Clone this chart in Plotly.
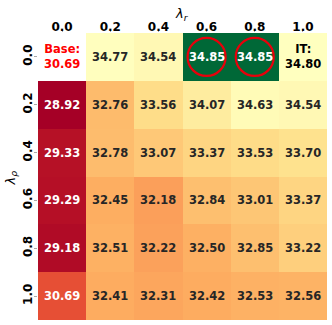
import plotly.graph_objects as go

# lambda values for both axes
lam_r = ["0.0", "0.2", "0.4", "0.6", "0.8", "1.0"]
lam_p = ["0.0", "0.2", "0.4", "0.6", "0.8", "1.0"]

# rows = lambda_rho, columns = lambda_r; None = base cell (not coloured)
scores = [
    [None, 34.77, 34.54, 34.85, 34.85, 34.80],
    [28.92, 32.76, 33.56, 34.07, 34.63, 34.54],
    [29.33, 32.78, 33.07, 33.37, 33.53, 33.70],
    [29.29, 32.45, 32.18, 32.84, 33.01, 33.37],
    [29.18, 32.51, 32.22, 32.50, 32.85, 33.22],
    [30.69, 32.41, 32.31, 32.42, 32.53, 32.56],
]
base_score = 30.69
it_score = 34.80
best_cells = [(0, 3), (0, 4)]  # (row, col) of the best scores

# colour range: centred on the IT score, starting at the minimum
vmin = 28.92
vmax = 2 * it_score - vmin

main_z = [[v for v in row] for row in scores]
best_z = [[None] * len(lam_r) for _ in lam_p]
for r, c in best_cells:
    best_z[r][c] = scores[r][c]
    main_z[r][c] = None

fig = go.Figure()
fig.add_trace(go.Heatmap(
    z=main_z, x=lam_r, y=lam_p,
    colorscale="RdYlGn", zmin=vmin, zmax=vmax,
    showscale=False, hoverinfo="skip",
))
fig.add_trace(go.Heatmap(
    z=best_z, x=lam_r, y=lam_p,
    colorscale=[[0, "#006837"], [1, "#006837"]],
    showscale=False, hoverinfo="skip",
))
fig.add_trace(go.Scatter(
    x=[lam_r[c] for r, c in best_cells],
    y=[lam_p[r] for r, c in best_cells],
    mode="markers",
    marker=dict(symbol="circle-open", size=38, color="#e8000b", line=dict(width=2.2)),
    hoverinfo="skip", showlegend=False,
))

annotations = []
for i, row in enumerate(scores):
    for j, v in enumerate(row):
        color = "#262626"
        if i == 0 and j == 0:
            text = f"Base:<br>{base_score:.2f}"
            color = "#ff0000"
        elif i == 0 and j == len(row) - 1:
            text = f"IT:<br>{v:.2f}"
            color = "black"
        else:
            text = f"{v:.2f}"
            if (i, j) in best_cells or v < 31:
                color = "white"
        annotations.append(dict(
            x=j, y=i, xref="x", yref="y", text=text,
            showarrow=False,
            font=dict(family="DejaVu Sans", size=11.5, color=color, weight="bold"),
        ))

# axis titles
annotations.append(dict(
    x=0.5, y=1, xref="paper", yref="paper", xshift=-1, yshift=19,
    xanchor="center", yanchor="middle",
    text="<i>λ<sub>r</sub></i>", showarrow=False, font=dict(size=13),
))
annotations.append(dict(
    x=0, y=0.5, xref="paper", yref="paper", xshift=-27, yshift=-2,
    xanchor="center", yanchor="middle",
    text="<i>λ<sub>ρ</sub></i>", showarrow=False, textangle=-90, font=dict(size=13),
))

fig.update_layout(
    width=332, height=325,
    margin=dict(l=38, r=5, t=33, b=5),
    paper_bgcolor="white", plot_bgcolor="white",
    annotations=annotations,
    font=dict(family="DejaVu Sans", color="black"),
    xaxis=dict(
        type="category", side="top", showgrid=False, zeroline=False,
        automargin=False, range=[-0.5, len(lam_r) - 0.5],
        ticks="outside", ticklen=3, tickcolor="#aaaaaa", ticklabelstandoff=-7,
        tickfont=dict(size=12, weight="bold"),
    ),
    yaxis=dict(
        type="category", showgrid=False, zeroline=False,
        automargin=False, range=[len(lam_p) - 0.5, -0.5],
        ticks="outside", ticklen=3, tickcolor="#aaaaaa", tickangle=-90,
        ticklabelstandoff=-3,
        tickfont=dict(size=12, weight="bold"),
    ),
)

# drop the default page margin so the figure fills the window
fig.write_html(
    "out.html",
    config={"displayModeBar": False},
    post_script="document.body.style.margin = '0';",
)
